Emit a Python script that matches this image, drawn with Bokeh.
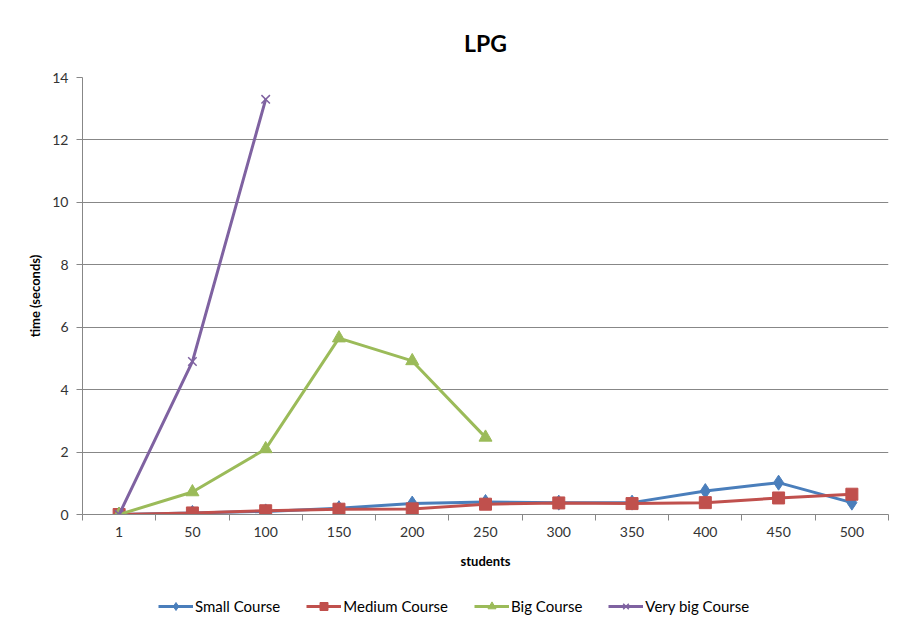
from bokeh.plotting import figure
from bokeh.models import Range1d, FixedTicker, Legend, LegendItem
from bokeh.layouts import column
from bokeh.embed import file_html
from bokeh.resources import INLINE

students = ["1", "50", "100", "150", "200", "250", "300", "350", "400", "450", "500"]
small_course = [0.0, 0.05, 0.10, 0.20, 0.35, 0.40, 0.38, 0.38, 0.75, 1.02, 0.38]
medium_course = [0.0, 0.05, 0.12, 0.17, 0.18, 0.33, 0.37, 0.35, 0.38, 0.53, 0.65]
big_course = [0.0, 0.72, 2.10, 5.65, 4.92, 2.47]
very_big_course = [0.0, 4.90, 13.30]
y_ticks = [0, 2, 4, 6, 8, 10, 12, 14]

FONT = "Lato"
GRID = "#878787"
TEXT = "#333333"
W = 895

idx = list(range(len(students)))

p = figure(width=W, height=580, output_backend="svg", toolbar_location=None,
           x_range=Range1d(-0.5, len(students) - 0.5), y_range=Range1d(0, 14),
           title="LPG", min_border_left=82, min_border_right=7, min_border_top=77,
           min_border_bottom=66)
p.outline_line_color = None
p.background_fill_color = "white"
p.border_fill_color = "white"

p.title.align = "center"
p.title.text_font = FONT
p.title.text_font_size = "23px"
p.title.text_font_style = "bold"
p.title.text_color = "black"
p.title.standoff = 41

# x axis
p.xaxis.ticker = FixedTicker(ticks=idx, minor_ticks=[i - 0.5 for i in range(len(students) + 1)])
p.xaxis.major_label_overrides = {i: s for i, s in enumerate(students)}
p.xaxis.major_tick_line_color = None
p.xaxis.major_tick_in = 0
p.xaxis.major_tick_out = 6
p.xaxis.minor_tick_line_color = GRID
p.xaxis.minor_tick_in = 0
p.xaxis.minor_tick_out = 6
p.xaxis.axis_line_color = GRID
p.xaxis.major_label_text_font = FONT
p.xaxis.major_label_text_font_size = "14px"
p.xaxis.major_label_text_color = TEXT
p.xaxis.major_label_standoff = 6
p.xaxis.axis_label = "students"
p.xaxis.axis_label_text_font = FONT
p.xaxis.axis_label_text_font_size = "13px"
p.xaxis.axis_label_text_font_style = "bold"
p.xaxis.axis_label_text_color = "black"
p.xaxis.axis_label_standoff = 13

# y axis
p.yaxis.ticker = FixedTicker(ticks=y_ticks)
p.yaxis.minor_tick_line_color = None
p.yaxis.major_tick_line_color = GRID
p.yaxis.major_tick_in = 0
p.yaxis.major_tick_out = 6
p.yaxis.axis_line_color = GRID
p.yaxis.major_label_text_font = FONT
p.yaxis.major_label_text_font_size = "14px"
p.yaxis.major_label_text_color = TEXT
p.yaxis.major_label_standoff = 8
p.yaxis.axis_label = "time (seconds)"
p.yaxis.axis_label_text_font = FONT
p.yaxis.axis_label_text_font_size = "13px"
p.yaxis.axis_label_text_font_style = "bold"
p.yaxis.axis_label_text_color = "black"
p.yaxis.axis_label_standoff = 6

p.xgrid.grid_line_color = None
p.ygrid.grid_line_color = GRID
p.ygrid.grid_line_width = 1

blue = "#4a7ebb"
red = "#c0504d"
green = "#9bbb59"
purple = "#7f62a1"

series = [
    ("Small Course", small_course, blue, "diamond", 15),
    ("Medium Course", medium_course, red, "square", 12),
    ("Big Course", big_course, green, "triangle", 13),
    ("Very big Course", very_big_course, purple, "x", 12),
]

# legend strip (separate figure below, same series drawn out of view)
lg = figure(width=W, height=45, output_backend="svg", toolbar_location=None,
            x_range=Range1d(-100, -99), y_range=Range1d(-100, -99),
            x_axis_location=None, y_axis_location=None,
            min_border_left=0, min_border_right=0, min_border_top=0, min_border_bottom=0)
lg.outline_line_color = None
lg.xgrid.grid_line_color = None
lg.ygrid.grid_line_color = None
lg.border_fill_color = "white"
lg.background_fill_color = "white"

items = []
for name, vals, col, mk, sz in series:
    xs = idx[:len(vals)]
    lw = 1 if mk != "x" else 1.5
    p.line(xs, vals, line_color=col, line_width=3)
    p.scatter(xs, vals, marker=mk, size=sz, fill_color=col, line_color=col, line_width=lw)
    l2 = lg.line(xs, vals, line_color=col, line_width=3)
    m2 = lg.scatter(xs, vals, marker=mk, size=min(sz, 10), fill_color=col, line_color=col, line_width=lw)
    items.append(LegendItem(label=name, renderers=[l2, m2]))

legend = Legend(items=items, orientation="horizontal", location=(76, 9),
                border_line_color=None, background_fill_alpha=0,
                label_text_font=FONT, label_text_font_size="15px",
                label_text_color="black", glyph_width=35, spacing=26,
                label_standoff=2, margin=0, padding=4)
lg.add_layout(legend)

layout = column(p, lg, spacing=0)
open("out.html", "w").write(file_html(layout, INLINE))
